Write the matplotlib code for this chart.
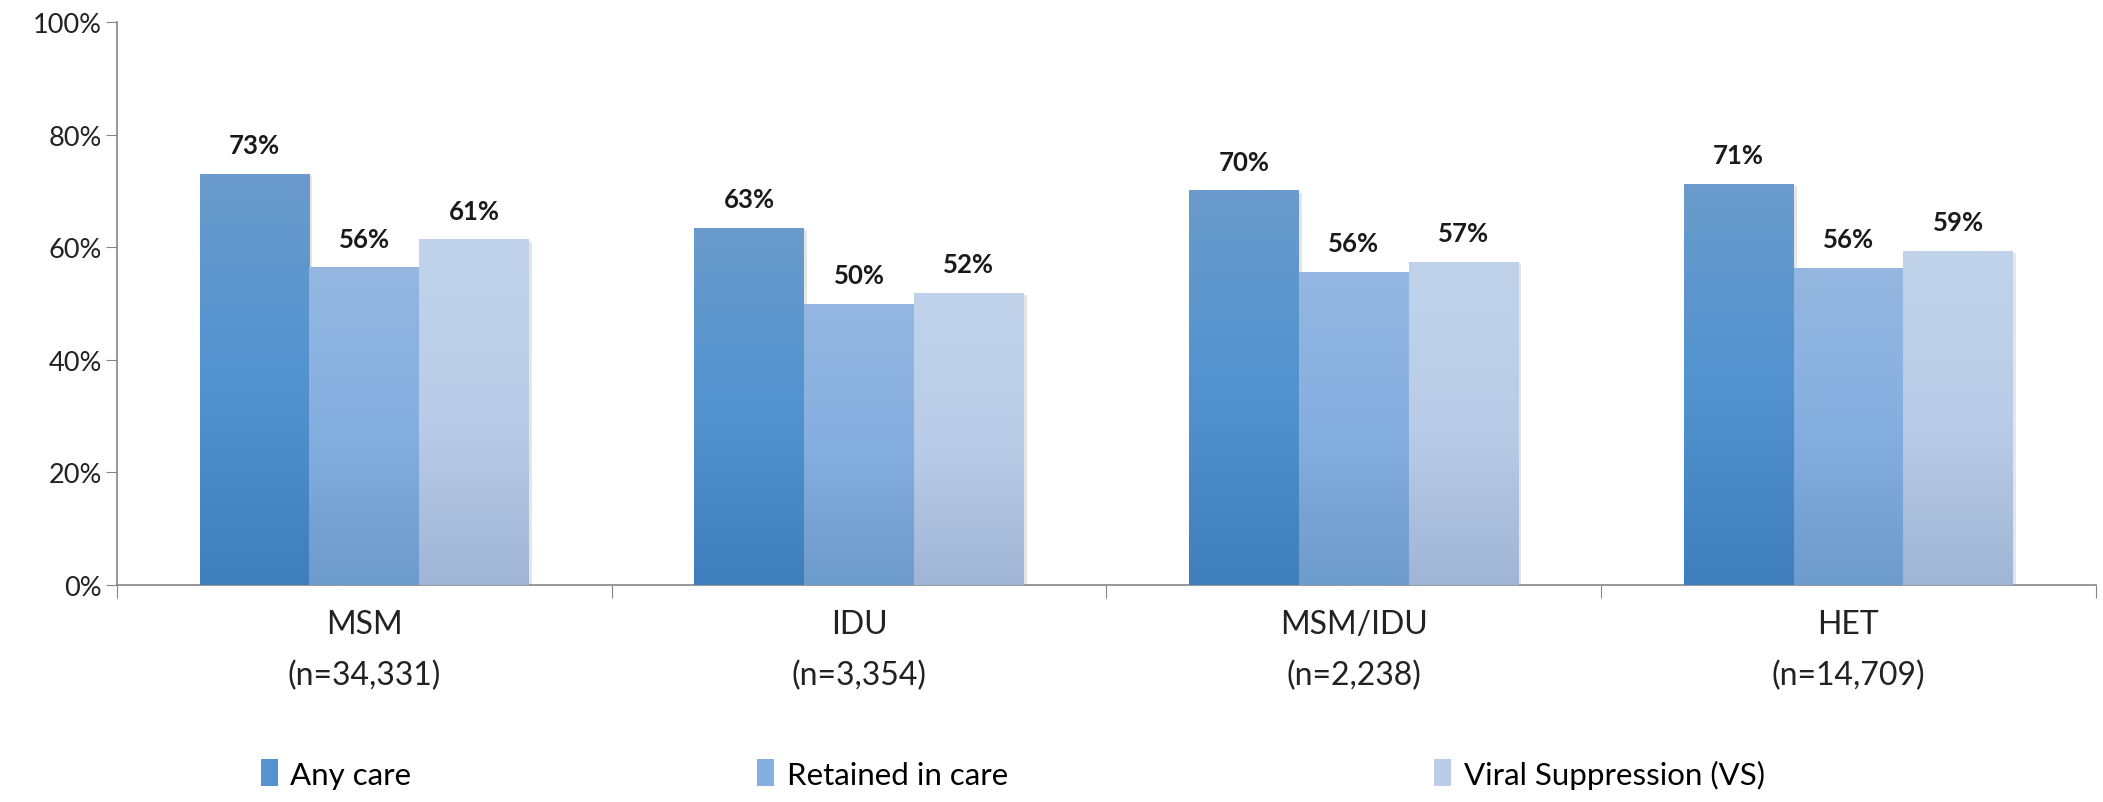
import numpy as np
import matplotlib
matplotlib.use("Agg")
import matplotlib.pyplot as plt
from matplotlib.colors import LinearSegmentedColormap
from matplotlib.patches import Patch

plt.rcParams["font.family"] = ["Lato", "DejaVu Sans"]

# DATA
categories = ["MSM", "IDU", "MSM/IDU", "HET"]
counts = ["(n=34,331)", "(n=3,354)", "(n=2,238)", "(n=14,709)"]
series_names = ["Any care", "Retained in care", "Viral Suppression (VS)"]
any_care = [73.0, 63.4, 70.1, 71.2]
retained = [56.4, 49.9, 55.6, 56.3]
viral_supp = [61.4, 51.9, 57.4, 59.3]
y_ticks = [0, 20, 40, 60, 80, 100]

# vertical gradients (bottom, middle, top)
gradients = [
    ["#3F7EBC", "#5293D0", "#6A9BCB"],
    ["#6D9BCC", "#85AFE0", "#95B7E0"],
    ["#A0B5D6", "#BACDE8", "#C0D3EB"],
]

fig = plt.figure(figsize=(21.03, 8.03), dpi=100)
ax = fig.add_axes([0.0556, 0.2702, 0.941, 0.7012])

x = np.arange(len(categories))
w = 0.222
grad = np.linspace(0, 1, 256).reshape(-1, 1)

for i, (vals, cols) in enumerate(zip([any_care, retained, viral_supp], gradients)):
    cmap = LinearSegmentedColormap.from_list(f"g{i}", cols)
    bars = ax.bar(x + (i - 1) * w, vals, width=w, color=cols[1], edgecolor="none",
                  zorder=2)
    for b, v in zip(bars, vals):
        x0 = b.get_x()
        # soft shadow on the right edge
        ax.bar(x0 + w / 2 + 0.006, v - 0.4, width=w, bottom=0, color="#000000",
               alpha=0.10, edgecolor="none", zorder=1)
        im = ax.imshow(grad, extent=(x0, x0 + w, 0, v), origin="lower",
                       aspect="auto", cmap=cmap, zorder=3)
        im.set_clip_path(b)
        ax.annotate(f"{v:.0f}%", (x0 + w / 2, v), xytext=(0, 12),
                    textcoords="offset points", ha="center", va="bottom",
                    fontsize=18.5, fontweight="bold", color="#1a1a1a", zorder=4)

ax.set_xlim(-0.5, len(categories) - 0.5)
ax.set_ylim(0, 100)

ax.set_yticks(y_ticks)
ax.set_yticklabels([f"{t}%" for t in y_ticks], fontsize=19.5, color="#222222")
ax.tick_params(axis="y", length=8, color="#868686", pad=3)

ax.set_xticks(np.arange(len(categories) + 1) - 0.5)
ax.set_xticklabels([])
ax.tick_params(axis="x", which="major", length=9, color="#868686")
ax.set_xticks(x, minor=True)
ax.set_xticklabels([f"{c}\n{n}" for c, n in zip(categories, counts)], minor=True,
                   fontsize=23, color="#222222", linespacing=1.85)
ax.tick_params(axis="x", which="minor", length=0, pad=17)

for s in ["top", "right"]:
    ax.spines[s].set_visible(False)
for s in ["left", "bottom"]:
    ax.spines[s].set_color("#868686")
    ax.spines[s].set_linewidth(1.2)

legend_x = [0.124, 0.360, 0.682]
for name, cols, lx in zip(series_names, gradients, legend_x):
    fig.legend(handles=[Patch(facecolor=cols[1], edgecolor="none")], labels=[name],
               loc="center left", bbox_to_anchor=(lx, 0.035), frameon=False,
               handlelength=0.55, handleheight=0.95, handletextpad=0.4,
               borderpad=0, borderaxespad=0, fontsize=22.5)

fig.savefig("out.png", dpi=100)
